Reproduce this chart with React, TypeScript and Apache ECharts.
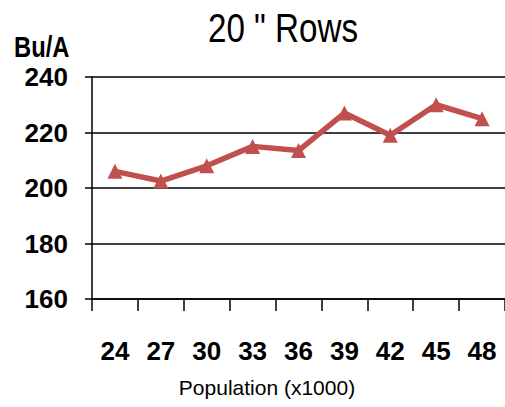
import React, { useEffect, useRef } from "react";
import * as echarts from "echarts";

const categories = ["24", "27", "30", "33", "36", "39", "42", "45", "48"];
const yieldValues = [206, 202.5, 208, 215, 213.5, 227, 219, 230, 225];
const yMin = 160;
const yMax = 240;
const yStep = 20;

const FONT = "'Liberation Sans', Arial, sans-serif";

export default function App() {
  const ref = useRef<HTMLDivElement>(null);
  useEffect(() => {
    if (!ref.current) return;
    const chart = echarts.init(ref.current, null, { renderer: "svg" });
    chart.setOption({
      animation: false,
      backgroundColor: "#ffffff",
      graphic: [
        {
          type: "text",
          x: 283,
          y: 8,
          scaleX: 0.83,
          style: {
            text: '20 " Rows',
            align: "center",
            fontFamily: FONT,
            fontSize: 40,
            fill: "#000",
          },
        },
        {
          type: "text",
          x: 14,
          y: 33,
          scaleX: 0.82,
          style: { text: "Bu/A", fontFamily: FONT, fontSize: 29, fontWeight: "bold", fill: "#000" },
        },
        {
          type: "text",
          x: 267,
          y: 377,
          style: {
            text: "Population (x1000)",
            align: "center",
            fontFamily: FONT,
            fontSize: 21,
            fill: "#000",
          },
        },
      ],
      grid: { left: 92, top: 77, right: -7, bottom: 108 },
      xAxis: {
        type: "category",
        data: categories,
        boundaryGap: true,
        axisLine: { show: true, lineStyle: { color: "#000", width: 1.5 } },
        axisTick: { show: true, length: 12, lineStyle: { color: "#000", width: 1.5 } },
        axisLabel: { margin: 39, fontFamily: FONT, fontSize: 26, fontWeight: "bold", color: "#000" },
        splitLine: { show: false },
      },
      yAxis: {
        type: "value",
        min: yMin,
        max: yMax,
        interval: yStep,
        axisLine: { show: true, lineStyle: { color: "#000", width: 1.5 } },
        axisTick: { show: true, length: 7, lineStyle: { color: "#000", width: 1.5 } },
        axisLabel: { margin: 24, fontFamily: FONT, fontSize: 26, fontWeight: "bold", color: "#000" },
        splitLine: { show: true, lineStyle: { color: "#000", width: 1.5 } },
      },
      series: [
        {
          type: "line",
          data: yieldValues,
          symbol: "triangle",
          symbolSize: 15,
          lineStyle: { color: "#C0504D", width: 5.5 },
          itemStyle: { color: "#C0504D" },
        },
      ],
    });
    return () => chart.dispose();
  }, []);
  return <div ref={ref} style={{ position: "fixed", left: 0, top: 0, width: 505, height: 407 }} />;
}
